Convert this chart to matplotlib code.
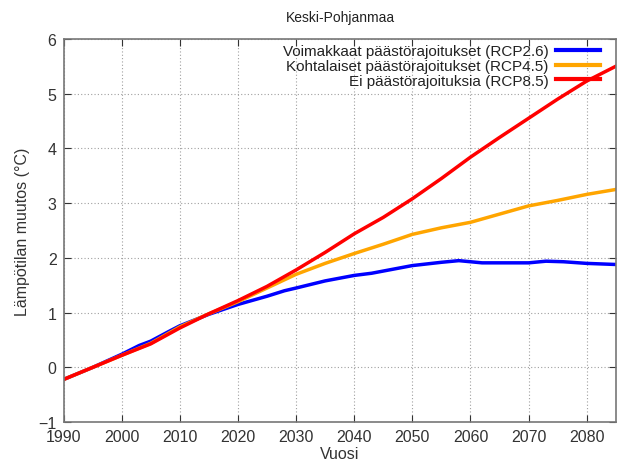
import matplotlib
matplotlib.use("Agg")
import matplotlib.pyplot as plt

plt.rcParams['font.family'] = ['Liberation Sans', 'DejaVu Sans']

years_26 = [1990, 1995, 2000, 2003, 2005, 2008, 2010, 2015, 2020, 2025, 2028, 2030, 2035, 2040, 2043,
            2045, 2050, 2055, 2058, 2060, 2062, 2065, 2070, 2073, 2076, 2080, 2085]
rcp26 = [-0.22, 0.0, 0.24, 0.40, 0.48, 0.65, 0.76, 0.97, 1.15, 1.30, 1.40, 1.45, 1.58, 1.68, 1.72,
         1.76, 1.86, 1.92, 1.95, 1.93, 1.91, 1.91, 1.91, 1.94, 1.93, 1.90, 1.88]

years_45 = [1990, 1995, 2000, 2005, 2010, 2015, 2020, 2025, 2030, 2035, 2040, 2045, 2050, 2055,
            2060, 2065, 2070, 2075, 2080, 2085]
rcp45 = [-0.22, 0.0, 0.22, 0.44, 0.74, 0.98, 1.20, 1.45, 1.70, 1.90, 2.08, 2.25, 2.43, 2.55,
         2.65, 2.80, 2.95, 3.05, 3.16, 3.25]

years_85 = [1990, 1995, 2000, 2005, 2010, 2015, 2020, 2025, 2030, 2035, 2040, 2045, 2050, 2055,
            2060, 2065, 2070, 2075, 2080, 2085]
rcp85 = [-0.22, 0.0, 0.22, 0.43, 0.72, 0.98, 1.22, 1.48, 1.78, 2.10, 2.44, 2.74, 3.08, 3.45,
         3.84, 4.20, 4.55, 4.90, 5.23, 5.50]

labels = ["Voimakkaat päästörajoitukset (RCP2.6)",
          "Kohtalaiset päästörajoitukset (RCP4.5)",
          "Ei päästörajoituksia (RCP8.5)"]
colors = ["#0000ff", "#ffa500", "#ff0000"]

xticks = list(range(1990, 2081, 10))
yticks = list(range(-1, 7))

fig = plt.figure(figsize=(6.17, 4.64), dpi=100)
ax = fig.add_axes([0.103, 0.088, 0.895, 0.826])

ax.plot(years_26, rcp26, color=colors[0], lw=2.5, label=labels[0])
ax.plot(years_45, rcp45, color=colors[1], lw=2.5, label=labels[1])
ax.plot(years_85, rcp85, color=colors[2], lw=2.5, label=labels[2])

ax.set_xlim(1990, 2085)
ax.set_ylim(-1, 6)
ax.set_xticks(xticks)
ax.set_yticks(yticks)
ax.grid(True, color="#a0a0a0", linestyle=(0, (1, 2)), linewidth=0.8)
ax.tick_params(direction="in", top=True, right=True, length=5, labelsize=11.5,
               colors="#333333")
ax.tick_params(axis="x", pad=5)
ax.tick_params(axis="y", pad=5)
for s in ax.spines.values():
    s.set_color("#777777")
    s.set_linewidth(1.2)

ax.set_xlabel("Vuosi", fontsize=11.5, color="#333333", labelpad=1)
ax.set_ylabel("Lämpötilan muutos (°C)", fontsize=11.5, color="#333333", labelpad=6)
fig.text(0.552, 0.962, "Keski-Pohjanmaa", ha="center", va="center", fontsize=10, color="#222222")

leg = ax.legend(loc="upper right", frameon=False, markerfirst=False, fontsize=11,
                handlelength=2.9, handletextpad=0.5, labelspacing=0.05,
                borderaxespad=0.0, borderpad=0.1, bbox_to_anchor=(0.975, 0.99))
for t in leg.get_texts():
    t.set_color("#222222")
for l in leg.get_lines():
    l.set_linewidth(3)

fig.savefig("out.png", dpi=100)
